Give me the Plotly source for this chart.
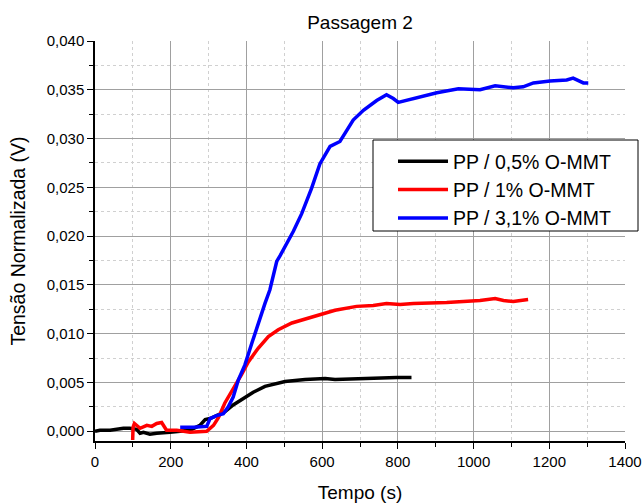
import plotly.graph_objects as go

# ---- data ----
black_t = [0, 13, 40, 75, 92, 110, 119, 128, 145, 163, 198, 225, 251, 277, 291, 304, 321,
           343, 365, 396, 418, 449, 502, 555, 608, 634, 700, 753, 797, 836]
black_v = [0.0000, 0.0001, 0.0001, 0.0003, 0.0003, 0.0002, -0.0002, -0.0001, -0.0003,
           -0.0002, -0.0001, 0.0000, 0.0001, 0.0006, 0.0012, 0.0013, 0.0016, 0.0020,
           0.0027, 0.0035, 0.0040, 0.0046, 0.0051, 0.0053, 0.0054, 0.0053, 0.0054,
           0.0054, 0.0055, 0.0055]

red_t = [99.5, 100.5, 104, 110, 119, 137, 150, 163, 176, 189, 198, 216, 251, 277,
         295, 313, 326, 343, 370, 387, 405, 431, 458, 484, 520, 563, 608, 634, 691,
         735, 770, 806, 841, 929, 1017, 1057, 1079, 1105, 1144]
red_v = [-0.0009, 0.0004, 0.0008, 0.0006, 0.0003, 0.0006, 0.0005, 0.0008, 0.0009,
         0.0001, 0.0001, 0.0001, -0.0001, 0.0000, 0.0000, 0.0006, 0.0014, 0.0029,
         0.0046, 0.0058, 0.0071, 0.0085, 0.0097, 0.0104, 0.0111, 0.0116, 0.0121,
         0.0124, 0.0128, 0.0129, 0.0131, 0.0130, 0.0131, 0.0132, 0.0134, 0.0136,
         0.0134, 0.0133, 0.0135]

blue_t = [225, 260, 295, 304, 321, 339, 352, 365, 379, 396, 414, 431, 449, 462, 480,
          489, 500, 524, 546, 572, 594, 621, 647, 665, 682, 709, 744, 770, 788, 801,
          823, 858, 903, 960, 1017, 1057, 1105, 1131, 1158, 1202, 1246, 1263, 1290, 1303]
blue_v = [0.0004, 0.0004, 0.0005, 0.0013, 0.0016, 0.0018, 0.0025, 0.0035, 0.0053,
          0.0068, 0.0090, 0.0111, 0.0131, 0.0145, 0.0174, 0.0180, 0.0188, 0.0205,
          0.0223, 0.0249, 0.0274, 0.0292, 0.0297, 0.0309, 0.0319, 0.0329, 0.0339,
          0.0345, 0.0341, 0.0337, 0.0339, 0.0343, 0.0347, 0.0351, 0.0350, 0.0354,
          0.0352, 0.0353, 0.0357, 0.0359, 0.0360, 0.0362, 0.0357, 0.0357]

series = [
    ("PP / 0,5% O-MMT", black_t, black_v, "#000000"),
    ("PP / 1% O-MMT", red_t, red_v, "#ff0000"),
    ("PP / 3,1% O-MMT", blue_t, blue_v, "#0000ff"),
]

FONT = "Liberation Sans"

# plot area in pixels (for converting layout positions to paper fractions)
L, R, T, B = 95, 625, 41, 441
W, H = 644, 504
def px_x(p):
    return (p - L) / (R - L)
def px_y(p):
    return (B - p) / (B - T)

fig = go.Figure()
for name, t, v, c in series:
    fig.add_trace(go.Scatter(x=t, y=v, mode="lines", name=name,
                             line=dict(color=c, width=3.5)))

axis_common = dict(
    automargin=False,
    showline=True, linecolor="black", linewidth=1.5,
    ticks="outside", ticklen=6, tickwidth=1.2, tickcolor="black",
    showgrid=True, gridcolor="#a0a0a0", gridwidth=1,
    zeroline=False,
    tickfont=dict(family=FONT, size=15, color="black"),
)

fig.update_xaxes(
    **axis_common,
    range=[0, 1400], dtick=200, tick0=0, tickformat="d",
    title=dict(text="Tempo (s)", font=dict(family=FONT, size=19, color="black"), standoff=17),
    minor=dict(dtick=100, ticks="outside", ticklen=4, tickcolor="black",
               showgrid=True, gridcolor="#d0d0d0", griddash="dot", gridwidth=1),
)
fig.update_yaxes(
    **axis_common,
    range=[-0.001, 0.040], dtick=0.005, tick0=0, tickformat=".3f",
    title=dict(text="Tensão Normalizada (V)", font=dict(family=FONT, size=19.5, color="black"), standoff=16),
    minor=dict(dtick=0.0025, ticks="outside", ticklen=4, tickcolor="black",
               showgrid=True, gridcolor="#d0d0d0", griddash="dot", gridwidth=1),
)

# legend frame (wider than plotly's own box, as in the reference)
fig.add_shape(type="rect", xref="paper", yref="paper",
              x0=px_x(373), x1=px_x(638), y0=px_y(231), y1=px_y(140),
              line=dict(color="black", width=1), fillcolor="white", layer="above")

fig.update_layout(
    width=W, height=H,
    margin=dict(l=L, r=W - R, t=T, b=H - B),
    paper_bgcolor="white", plot_bgcolor="white",
    separators=",.",
    title=dict(text="Passagem 2", x=(L + R) / 2 / W, xanchor="center",
               y=1 - 22 / H, yanchor="middle",
               font=dict(family=FONT, size=19, color="black")),
    legend=dict(x=px_x(393), y=px_y(142), xanchor="left", yanchor="top",
                bgcolor="rgba(0,0,0,0)", borderwidth=0,
                font=dict(family=FONT, size=19.5, color="black"),
                itemwidth=50, tracegroupgap=0),
    showlegend=True,
)

fig.write_html("out.html")
